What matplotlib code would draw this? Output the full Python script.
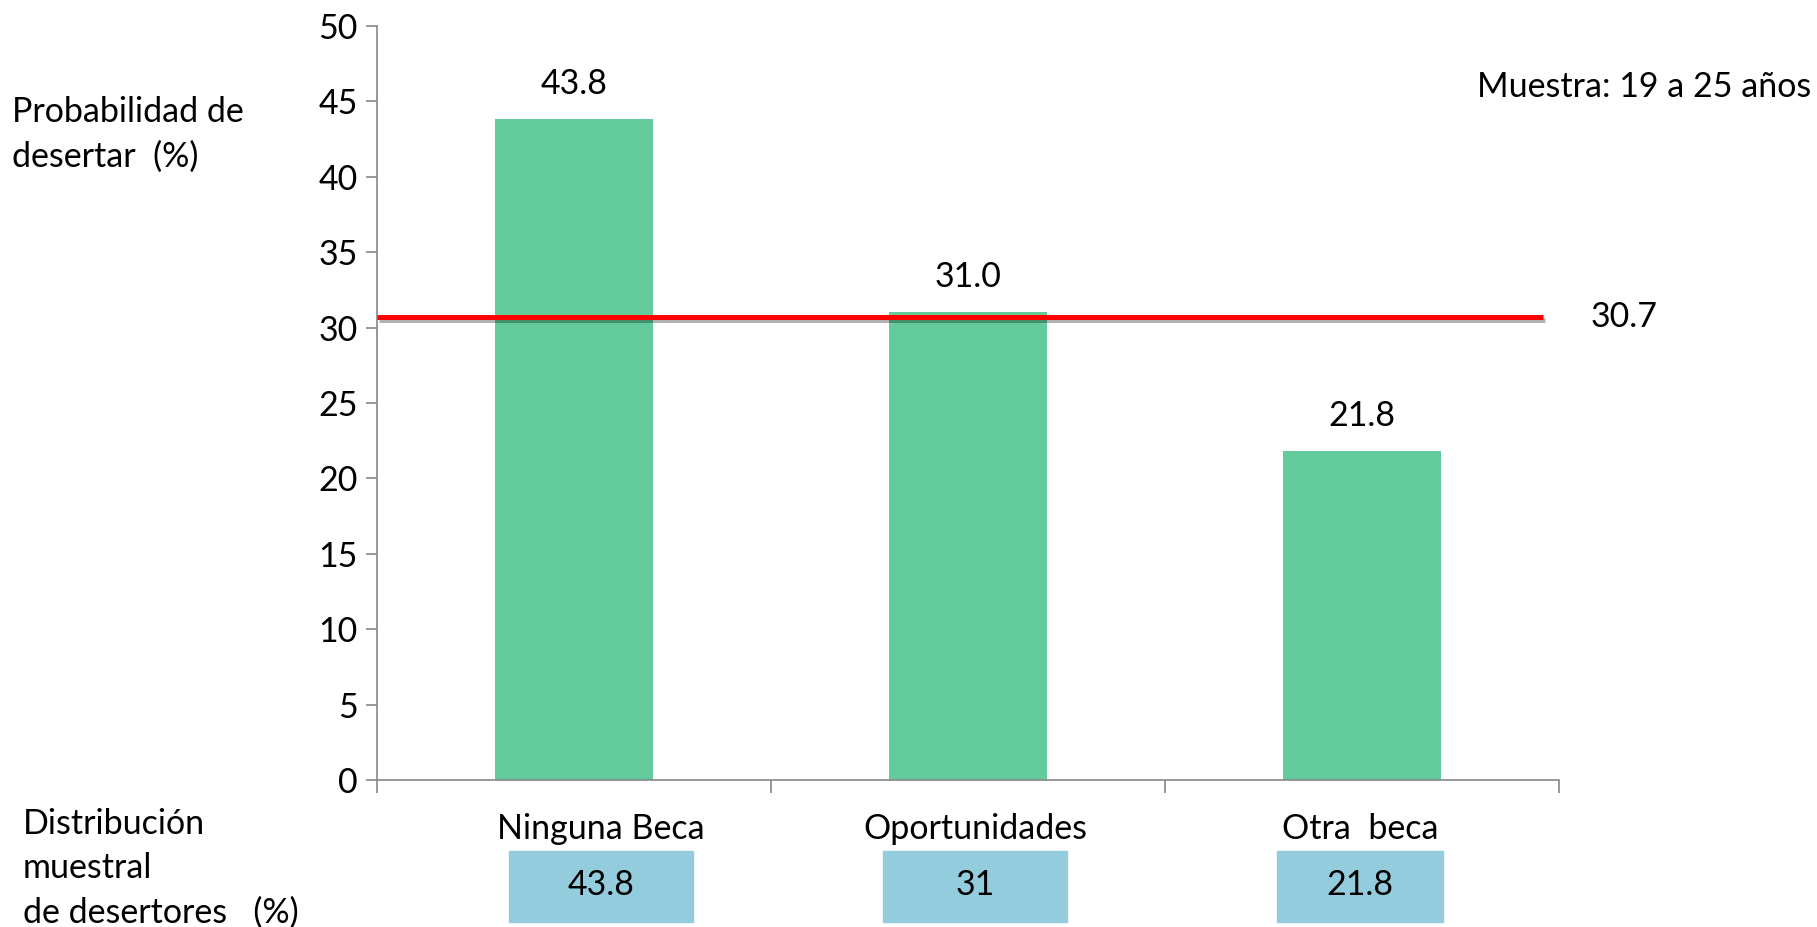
"""
Probabilidad de desertar por tipo de beca (19 a 25 años).
"""

import numpy as np
import matplotlib.pyplot as plt
import matplotlib.patheffects as pe

plt.rcParams['font.family'] = ['Lato', 'DejaVu Sans']

categorias = ["Ninguna Beca", "Oportunidades", "Otra  beca"]
probabilidad = [43.8, 31.0, 21.8]
distribucion = ["43.8", "31", "21.8"]
promedio = 30.7
yticks = [0, 5, 10, 15, 20, 25, 30, 35, 40, 45, 50]

VERDE = "#63CA9C"
AZUL = "#93CDDD"
FS = 24.5

fig = plt.figure(figsize=(18.17, 9.27), dpi=100)
ax = fig.add_axes([0.2075, 0.1586, 0.6505, 0.8134])

x = np.arange(len(categorias))
ax.bar(x, probabilidad, width=0.4, color=VERDE, zorder=2)
for xi, v in zip(x, probabilidad):
    ax.text(xi, v + 1.3, f"{v:.1f}", ha="center", va="bottom", fontsize=FS)

# línea del promedio con sombra
ax.plot([-0.5, 2.46], [promedio, promedio], color="red", lw=3.6, zorder=3,
        solid_capstyle="butt",
        path_effects=[pe.SimpleLineShadow(offset=(1.5, -2.5), alpha=0.3), pe.Normal()])
ax.text(2.58, promedio, f"{promedio}", va="center", ha="left", fontsize=FS)

ax.set_xlim(-0.5, 2.5)
ax.set_ylim(0, 50)
ax.set_yticks(yticks)
ax.set_xticks([-0.5, 0.5, 1.5, 2.5])
ax.set_xticklabels([])
ax.tick_params(axis="y", labelsize=FS, length=8, color="#888888", width=1.2, pad=6)
ax.tick_params(axis="x", length=9, color="#888888", width=1.2, direction="out")
for s in ["top", "right"]:
    ax.spines[s].set_visible(False)
for s in ["left", "bottom"]:
    ax.spines[s].set_color("#888888")
    ax.spines[s].set_linewidth(1.2)

fig.text(0.0066, 0.855, "Probabilidad de\ndesertar  (%)", fontsize=FS, va="center",
         linespacing=1.47)
fig.text(0.997, 0.906, "Muestra: 19 a 25 años", fontsize=FS, ha="right", va="center")

# nombres de categoría y cajas de distribución muestral
fig.text(0.0127, 0.0636, "Distribución\nmuestral\nde desertores   (%)", fontsize=FS,
         va="center", linespacing=1.47)
cajas = [(509, 693), (883, 1067), (1277, 1443)]
for (x0, x1), cat, val in zip(cajas, categorias, distribucion):
    xc = (x0 + x1) / 2 / 1817
    fig.text(xc, 1 - 829 / 927, cat, fontsize=FS, ha="center", va="center")
    fig.patches.append(plt.Rectangle((x0 / 1817, 1 - 922 / 927), (x1 - x0) / 1817,
                                     71 / 927, transform=fig.transFigure,
                                     color=AZUL, zorder=1))
    fig.text(xc, 1 - 885 / 927, val, fontsize=FS, ha="center", va="center", zorder=2)

fig.savefig("out.png", dpi=100, facecolor="white")
